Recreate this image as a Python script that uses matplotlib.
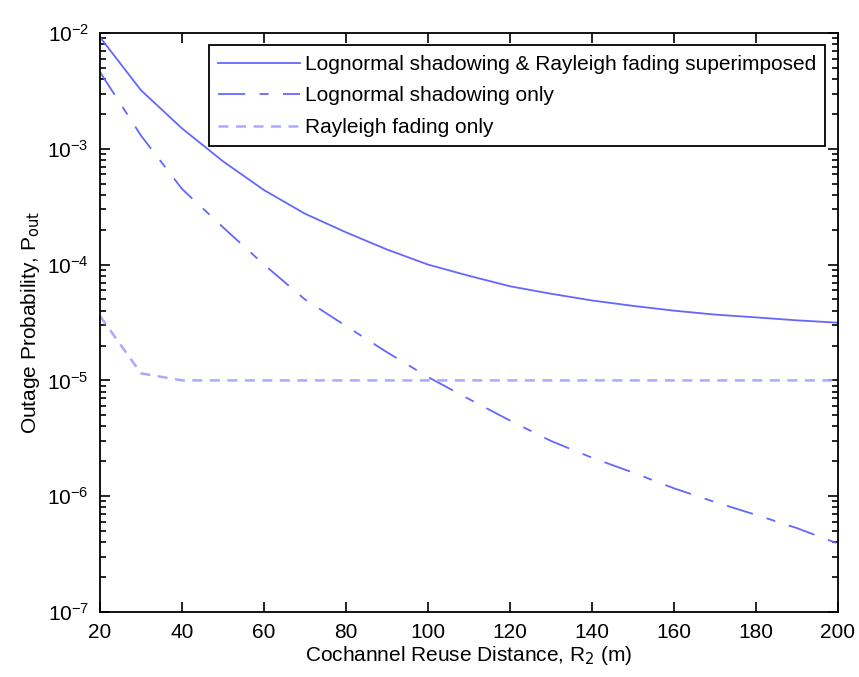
import numpy as np
import matplotlib
matplotlib.use("Agg")
import matplotlib.pyplot as plt

# Khoảng cách tái sử dụng kênh (m)
R2 = [20, 30, 40, 50, 60, 70, 80, 90, 100, 110, 120, 130, 140, 150, 160, 170, 180, 190, 200]

# Xác suất mất kết nối cho từng trường hợp
p_both = [9.2e-3, 3.2e-3, 1.5e-3, 7.8e-4, 4.4e-4, 2.75e-4, 1.9e-4, 1.35e-4, 1.0e-4, 8.0e-5,
          6.5e-5, 5.6e-5, 4.9e-5, 4.4e-5, 4.0e-5, 3.7e-5, 3.5e-5, 3.3e-5, 3.15e-5]
p_lognormal = [4.6e-3, 1.3e-3, 4.5e-4, 2.1e-4, 1.0e-4, 5.0e-5, 2.95e-5, 1.75e-5, 1.07e-5, 6.9e-6,
               4.5e-6, 3.0e-6, 2.15e-6, 1.6e-6, 1.17e-6, 8.9e-7, 6.9e-7, 5.3e-7, 3.9e-7]
p_rayleigh = [3.6e-5, 1.15e-5, 1.0e-5, 1.0e-5, 1.0e-5, 1.0e-5, 1.0e-5, 1.0e-5, 1.0e-5, 1.0e-5,
              1.0e-5, 1.0e-5, 1.0e-5, 1.0e-5, 1.0e-5, 1.0e-5, 1.0e-5, 1.0e-5, 1.0e-5]

labels = ['Lognormal shadowing & Rayleigh fading superimposed',
          'Lognormal shadowing only',
          'Rayleigh fading only']

plt.rcParams['font.family'] = ['Liberation Sans', 'DejaVu Sans']
fs = 15

fig = plt.figure(figsize=(8.59, 6.77), dpi=100)
ax = fig.add_axes([0.1164, 0.096, 0.8591, 0.8553])

ax.semilogy(R2, p_both, color='#6666ff', linewidth=1.3, label=labels[0])
ax.semilogy(R2, p_lognormal, color='#6666ff', linewidth=1.3, dashes=(15, 8, 5, 8), label=labels[1])
ax.semilogy(R2, p_rayleigh, color='#aaaaff', linewidth=1.8, dashes=(4, 3), label=labels[2])

ax.set_xlim(20, 200)
ax.set_ylim(1e-7, 1e-2)
ax.set_xticks(np.arange(20, 201, 20))
ax.tick_params(which='both', direction='in', top=True, right=True, width=1.2)
ax.tick_params(which='major', length=7, labelsize=fs, pad=8)
ax.tick_params(which='minor', length=4)
for s in ax.spines.values():
    s.set_linewidth(1.3)

ax.set_xlabel('Cochannel Reuse Distance, R$_2$ (m)', fontsize=fs, labelpad=1)
ax.set_ylabel('Outage Probability, P$_{\\mathrm{out}}$', fontsize=fs, labelpad=4)

leg = ax.legend(loc='upper right', fancybox=False, framealpha=1, edgecolor='black',
                handlelength=3.9, handletextpad=0.25, borderaxespad=0.6, fontsize=fs,
                labelspacing=0.6, borderpad=0.45)
leg.get_frame().set_linewidth(1.3)

plt.savefig('out.png', dpi=100)
